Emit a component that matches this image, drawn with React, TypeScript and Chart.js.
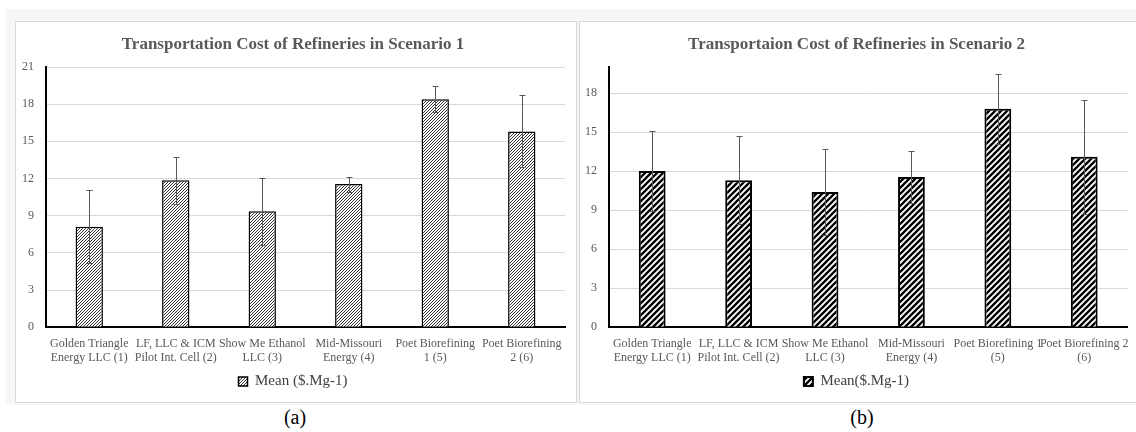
import React, { useEffect, useRef } from "react";
import { Chart, registerables } from "chart.js";

Chart.register(...registerables);

const FONT = "'Liberation Serif', 'Times New Roman', serif";

// ---------- data ----------
const categories1: string[][] = [
  ["Golden Triangle", "Energy LLC (1)"],
  ["LF, LLC & ICM", "Pilot Int. Cell (2)"],
  ["Show Me Ethanol", "LLC (3)"],
  ["Mid-Missouri", "Energy (4)"],
  ["Poet Biorefining", "1 (5)"],
  ["Poet Biorefining", "2 (6)"],
];
const categories2: string[][] = [
  ["Golden Triangle", "Energy LLC (1)"],
  ["LF, LLC & ICM", "Pilot Int. Cell (2)"],
  ["Show Me Ethanol", "LLC (3)"],
  ["Mid-Missouri", "Energy (4)"],
  ["Poet Biorefining 1", "(5)"],
  ["Poet Biorefining 2", "(6)"],
];
const scenario1Mean = [8.1, 11.85, 9.35, 11.55, 18.4, 15.8];
const scenario1Err = [2.95, 1.9, 2.7, 0.6, 1.05, 2.9];
const scenario2Mean = [12.0, 11.3, 10.4, 11.55, 16.8, 13.1];
const scenario2Err = [3.1, 3.4, 3.3, 2.0, 2.7, 4.4];
const yAxis1 = [0, 21, 3]; // min, max, step
const yAxis2 = [0, 20, 3];
const title1 = "Transportation Cost of Refineries in Scenario 1";
const title2 = "Transportaion Cost of Refineries in Scenario 2";
const legend1 = "Mean ($.Mg-1)";
const legend2 = "Mean($.Mg-1)";

// ---------- helpers ----------
function makeHatch(tile: number, lineWidth: number, color: string): CanvasPattern | string {
  const c = document.createElement("canvas");
  c.width = tile;
  c.height = tile;
  const ctx = c.getContext("2d");
  if (!ctx) return color;
  ctx.fillStyle = "#ffffff";
  ctx.fillRect(0, 0, tile, tile);
  ctx.strokeStyle = color;
  ctx.lineWidth = lineWidth;
  ctx.lineCap = "square";
  ctx.beginPath();
  for (let k = -1; k <= 1; k++) {
    ctx.moveTo(k * tile - 1, tile + 1);
    ctx.lineTo(k * tile + tile + 1, -1);
  }
  ctx.stroke();
  return ctx.createPattern(c, "repeat") || color;
}

const errorBarPlugin = {
  id: "errorBars",
  afterDatasetsDraw(chart: any, _args: any, opts: any) {
    const errs: number[] = opts && opts.errors;
    if (!errs) return;
    const { ctx } = chart;
    const y = chart.scales.y;
    const meta = chart.getDatasetMeta(0);
    const data = chart.data.datasets[0].data as number[];
    ctx.save();
    ctx.strokeStyle = opts.color || "#595959";
    ctx.lineWidth = 1;
    meta.data.forEach((bar: any, i: number) => {
      const v = data[i];
      const e = errs[i];
      const x = Math.round(bar.x) + 0.5;
      const t = Math.round(y.getPixelForValue(v + e)) + 0.5;
      const b = Math.round(y.getPixelForValue(v - e)) + 0.5;
      ctx.beginPath();
      ctx.moveTo(x, t);
      ctx.lineTo(x, b);
      ctx.moveTo(x - 3, t);
      ctx.lineTo(x + 3, t);
      ctx.moveTo(x - 3, b);
      ctx.lineTo(x + 3, b);
      ctx.stroke();
    });
    ctx.restore();
  },
};

type PanelProps = {
  width: number;
  height: number;
  labels: string[][];
  values: number[];
  errors: number[];
  title: string;
  legend: string;
  yAxis: number[];
  hatch: "fine" | "bold";
  padLeft: number;
  padRight: number;
  yWidth: number;
  barPct: number;
  borderW: number;
};

function BarPanel(p: PanelProps) {
  const ref = useRef<HTMLCanvasElement | null>(null);
  useEffect(() => {
    if (!ref.current) return;
    const pattern =
      p.hatch === "fine" ? makeHatch(3, 1, "#333333") : makeHatch(6, 2.3, "#000000");
    const chart = new Chart(ref.current, {
      type: "bar",
      data: {
        labels: p.labels,
        datasets: [
          {
            label: p.legend,
            data: p.values,
            backgroundColor: pattern as any,
            borderColor: "#000000",
            borderWidth: p.borderW,
            barPercentage: p.barPct,
            categoryPercentage: 1,
          },
        ],
      },
      options: {
        responsive: false,
        animation: false,
        devicePixelRatio: 1,
        layout: { padding: { left: p.padLeft, right: p.padRight, top: 0, bottom: 3 } },
        plugins: {
          title: {
            display: true,
            text: p.title,
            color: "#595959",
            font: { family: FONT, size: 17, weight: "bold", lineHeight: 1.2 },
            padding: { top: 12, bottom: 12.6 },
          },
          legend: {
            display: true,
            position: "bottom",
            labels: {
              boxWidth: 9,
              boxHeight: 9,
              padding: 0,
              color: "#404040",
              font: { family: FONT, size: 15 },
            },
          },
          tooltip: { enabled: false },
          errorBars: { errors: p.errors, color: "#595959" },
        } as any,
        scales: {
          x: {
            grid: { display: false, drawTicks: false },
            border: { display: true, color: "#000000", width: 2 },
            ticks: {
              color: "#595959",
              font: { family: FONT, size: 12, lineHeight: 1.2 },
              padding: 9,
              maxRotation: 0,
              minRotation: 0,
              autoSkip: false,
            },
          },
          y: {
            min: p.yAxis[0],
            max: p.yAxis[1],
            grid: { color: "#d9d9d9", drawTicks: false, lineWidth: 1 },
            border: { display: true, color: "#000000", width: 2 },
            ticks: {
              stepSize: p.yAxis[2],
              includeBounds: false,
              color: "#595959",
              font: { family: FONT, size: 12 },
              padding: 12,
            },
            afterFit: (s: any) => {
              s.width = p.yWidth;
            },
          },
        },
      },
      plugins: [errorBarPlugin],
    });
    return () => chart.destroy();
  }, []);
  return <canvas ref={ref} width={p.width} height={p.height} style={{ display: "block" }} />;
}

export default function App() {
  return (
    <div
      style={{
        position: "absolute",
        left: 0,
        top: 0,
        width: 1136,
        height: 432,
        background: "#ffffff",
        overflow: "hidden",
        fontFamily: FONT,
      }}
    >
      <div
        style={{
          position: "absolute",
          left: 6,
          top: 9,
          width: 1130,
          height: 396,
          background: "#f7f7f7",
        }}
      />
      <div
        style={{
          position: "absolute",
          left: 15,
          top: 21,
          width: 562,
          height: 382,
          boxSizing: "border-box",
          border: "1px solid #d9d9d9",
          background: "#ffffff",
        }}
      >
        <BarPanel
          width={560}
          height={380}
          labels={categories1}
          values={scenario1Mean}
          errors={scenario1Err}
          title={title1}
          legend={legend1}
          yAxis={yAxis1}
          hatch="fine"
          padLeft={5}
          padRight={11}
          yWidth={25}
          barPct={0.316}
          borderW={1.5}
        />
      </div>
      <div
        style={{
          position: "absolute",
          left: 579,
          top: 21,
          width: 560,
          height: 382,
          boxSizing: "border-box",
          border: "1px solid #d9d9d9",
          background: "#ffffff",
        }}
      >
        <BarPanel
          width={558}
          height={380}
          labels={categories2}
          values={scenario2Mean}
          errors={scenario2Err}
          title={title2}
          legend={legend2}
          yAxis={yAxis2}
          hatch="bold"
          padLeft={0}
          padRight={5}
          yWidth={29}
          barPct={0.31}
          borderW={2}
        />
      </div>
      <div
        style={{
          position: "absolute",
          left: 245,
          width: 100,
          top: 405,
          textAlign: "center",
          fontSize: 20,
          color: "#000",
          lineHeight: "24px",
        }}
      >
        (a)
      </div>
      <div
        style={{
          position: "absolute",
          left: 812,
          width: 100,
          top: 405,
          textAlign: "center",
          fontSize: 20,
          color: "#000",
          lineHeight: "24px",
        }}
      >
        (b)
      </div>
    </div>
  );
}
